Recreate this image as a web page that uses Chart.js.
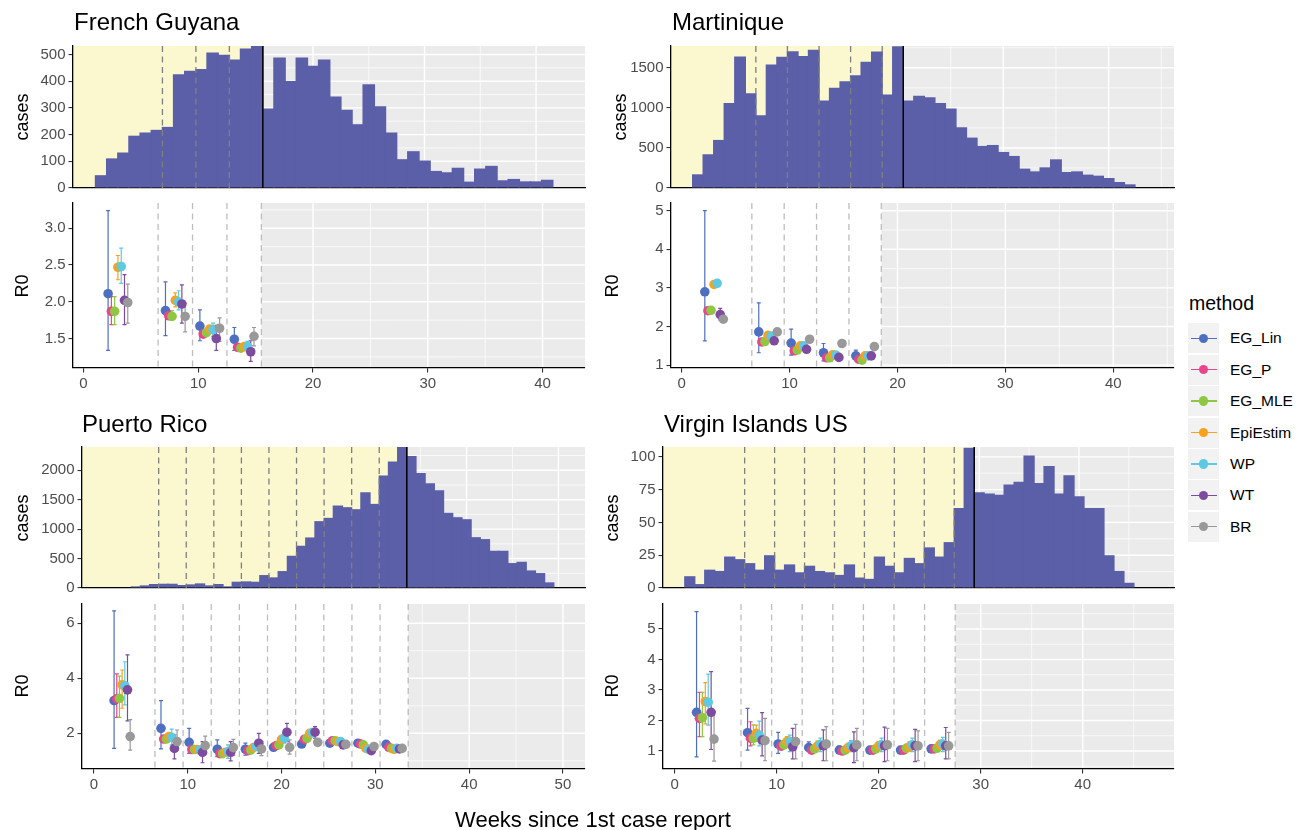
<!DOCTYPE html>
<html>
<head>
<meta charset="utf-8">
<script src="https://cdn.jsdelivr.net/npm/chart.js@4.4.0/dist/chart.umd.min.js"></script>
<style>
  body { margin: 0; background: #fff; font-family: "Liberation Sans", Arial, sans-serif; }
  #wrap { position: relative; width: 1297px; height: 830px; overflow: hidden; }
  .t { position: absolute; white-space: nowrap; color: #000; }
  .title { font-size: 24px; line-height: 28px; }
  .ylab { font-size: 18px; line-height: 20px; transform: translate(-50%, -50%) rotate(-90deg); }
  .xlab { font-size: 22px; line-height: 26px; transform: translate(-50%, -50%); }
  .legt { font-size: 19.5px; line-height: 24px; }
  .legl { font-size: 15.5px; line-height: 18px; }
</style>
</head>
<body>
<div id="wrap"></div>
<script>
const methods = ['EG_Lin', 'EG_P', 'EG_MLE', 'EpiEstim', 'WP', 'WT', 'BR'];
const methodColors = ['#4E6FBF', '#E8458C', '#8FC742', '#F8A21C', '#5DC9E2', '#7D4C9F', '#999999'];

// weekly case counts (first value = week given by *Start)
const fgStart = 1;
const fgCases = [48, 111, 133, 196, 208, 218, 229, 426, 439, 446, 508, 499, 481, 523, 532, 298, 489, 401, 489, 458,
  481, 343, 293, 239, 389, 306, 208, 108, 138, 103, 64, 59, 76, 24, 73, 83, 29, 34, 25, 25, 31];
const martStart = 1;
const martCases = [171, 421, 600, 1062, 1642, 1183, 908, 1542, 1637, 1708, 1646, 1725, 1092, 1250, 1333, 1408, 1575, 1704, 1167, 1770,
  1092, 1150, 1133, 1062, 992, 758, 629, 525, 537, 450, 400, 242, 208, 258, 358, 200, 208, 167, 154, 125, 75, 46];
const prStart = 4;
const prCases = [28, 45, 68, 73, 73, 51, 62, 79, 45, 68, 28, 107, 113, 107, 220, 181, 288, 548, 718, 859,
  1136, 1192, 1401, 1373, 1339, 1627, 1429, 1910, 2147, 2395, 2243, 1955, 1780, 1661, 1277, 1203, 1169, 864, 831, 633,
  633, 424, 446, 299, 254, 96];
const viStart = 1;
const viCases = [9, 3, 14, 13, 24, 22, 19, 14, 25, 14, 18, 12, 17, 13, 12, 10, 18, 8, 7, 24,
  17, 12, 23, 19, 31, 24, 35, 61, 107, 73, 72, 71, 79, 81, 101, 80, 93, 72, 86, 70, 61, 61, 25, 13, 4];

// estimation windows (week boundaries), peak week boundary, window centres
const fgBreaks = [6.5, 9.5, 12.5, 15.5];
const fgPeak = 15.5;
const fgCenters = [3, 8, 11, 14];
const martBreaks = [6.5, 9.5, 12.5, 15.5, 18.5];
const martPeak = 20.5;
const martCenters = [3, 8, 11, 14, 17];
const prBreaks = [6.5, 9.5, 12.5, 15.5, 18.5, 21.5, 24.5, 27.5, 30.5, 33.5];
const prPeak = 33.5;
const prCenters = [3, 8, 11, 14, 17, 20, 23, 26, 29, 32];
const viBreaks = [6.5, 9.5, 12.5, 15.5, 18.5, 21.5, 24.5, 27.5];
const viPeak = 29.5;
const viCenters = [3, 8, 11, 14, 17, 20, 23, 26];

// R0 estimates: one row per window, columns follow `methods`
const fgR0 = [
  [2.11, 1.87, 1.87, 2.47, 2.48, 2.02, 1.99],
  [1.88, 1.81, 1.80, 2.02, 2.00, 1.97, 1.80],
  [1.67, 1.56, 1.58, 1.63, 1.62, 1.50, 1.64],
  [1.49, 1.38, 1.37, 1.39, 1.39, 1.32, 1.53]];
const fgLo = [
  [1.34, 1.69, 1.69, 2.30, 2.25, 1.69, 1.71],
  [1.54, 1.76, 1.75, 1.93, 1.89, 1.71, 1.59],
  [1.47, 1.53, 1.53, 1.58, 1.53, 1.34, 1.46],
  [1.34, 1.36, 1.35, 1.37, 1.32, 1.19, 1.40]];
const fgHi = [
  [3.24, 2.07, 2.07, 2.63, 2.73, 2.37, 2.24],
  [2.27, 1.87, 1.88, 2.12, 2.15, 2.23, 1.98],
  [1.89, 1.60, 1.62, 1.67, 1.71, 1.68, 1.78],
  [1.65, 1.41, 1.40, 1.42, 1.46, 1.47, 1.65]];

const martR0 = [
  [2.90, 2.41, 2.42, 3.09, 3.12, 2.31, 2.19],
  [1.86, 1.60, 1.61, 1.77, 1.75, 1.63, 1.86],
  [1.57, 1.37, 1.39, 1.50, 1.50, 1.41, 1.67],
  [1.32, 1.19, 1.19, 1.27, 1.26, 1.20, 1.56],
  [1.24, 1.15, 1.13, 1.24, 1.24, 1.24, 1.48]];
const martLo = [
  [1.63, 2.37, 2.38, 3.05, 3.08, 2.17, 2.15],
  [1.32, 1.57, 1.58, 1.73, 1.71, 1.58, 1.83],
  [1.26, 1.34, 1.36, 1.47, 1.47, 1.37, 1.64],
  [1.11, 1.16, 1.16, 1.24, 1.23, 1.16, 1.53],
  [1.11, 1.12, 1.10, 1.21, 1.21, 1.20, 1.45]];
const martHi = [
  [5.00, 2.45, 2.46, 3.13, 3.16, 2.47, 2.23],
  [2.61, 1.63, 1.64, 1.81, 1.79, 1.68, 1.89],
  [1.93, 1.40, 1.42, 1.53, 1.53, 1.45, 1.70],
  [1.56, 1.22, 1.22, 1.30, 1.29, 1.24, 1.59],
  [1.39, 1.18, 1.16, 1.27, 1.27, 1.28, 1.51]];

const prR0 = [
  [3.19, 3.25, 3.27, 3.76, 3.73, 3.58, 1.88],
  [2.18, 1.79, 1.79, 1.88, 1.85, 1.45, 1.70],
  [1.67, 1.41, 1.41, 1.41, 1.39, 1.31, 1.55],
  [1.42, 1.26, 1.26, 1.31, 1.33, 1.31, 1.48],
  [1.42, 1.37, 1.39, 1.48, 1.52, 1.64, 1.43],
  [1.49, 1.55, 1.58, 1.78, 1.82, 2.04, 1.49],
  [1.61, 1.78, 1.82, 2.00, 2.02, 2.04, 1.67],
  [1.64, 1.73, 1.73, 1.70, 1.70, 1.58, 1.60],
  [1.64, 1.61, 1.58, 1.45, 1.42, 1.37, 1.52],
  [1.60, 1.49, 1.45, 1.42, 1.45, 1.43, 1.45]];
const prLo = [
  [1.45, 2.58, 2.58, 2.91, 3.03, 2.45, 1.39],
  [1.43, 1.70, 1.70, 1.78, 1.58, 1.07, 1.39],
  [1.27, 1.33, 1.33, 1.33, 1.30, 0.93, 1.24],
  [1.15, 1.20, 1.20, 1.24, 1.09, 1.00, 1.21],
  [1.21, 1.31, 1.33, 1.40, 1.40, 1.27, 1.19],
  [1.40, 1.48, 1.50, 1.68, 1.64, 1.70, 1.24],
  [1.53, 1.70, 1.74, 1.92, 1.88, 1.82, 1.58],
  [1.57, 1.66, 1.66, 1.63, 1.63, 1.50, 1.52],
  [1.57, 1.55, 1.52, 1.39, 1.35, 1.30, 1.45],
  [1.53, 1.43, 1.39, 1.36, 1.38, 1.36, 1.38]];
const prHi = [
  [6.45, 4.16, 4.08, 4.30, 4.60, 4.85, 2.50],
  [3.19, 1.90, 1.90, 1.98, 2.15, 1.94, 2.12],
  [2.18, 1.50, 1.50, 1.50, 1.50, 1.70, 1.90],
  [1.76, 1.33, 1.33, 1.38, 1.58, 1.70, 1.78],
  [1.64, 1.43, 1.45, 1.56, 1.65, 2.00, 1.70],
  [1.58, 1.62, 1.66, 1.88, 2.00, 2.36, 1.76],
  [1.70, 1.86, 1.90, 2.08, 2.18, 2.24, 1.76],
  [1.71, 1.80, 1.80, 1.77, 1.77, 1.66, 1.68],
  [1.71, 1.67, 1.64, 1.51, 1.49, 1.44, 1.59],
  [1.67, 1.55, 1.51, 1.48, 1.52, 1.50, 1.52]];

const viR0 = [
  [2.27, 2.07, 2.09, 2.62, 2.60, 2.27, 1.39],
  [1.60, 1.42, 1.42, 1.58, 1.52, 1.36, 1.34],
  [1.23, 1.16, 1.20, 1.31, 1.31, 1.14, 1.31],
  [1.11, 1.03, 1.07, 1.17, 1.22, 1.17, 1.23],
  [1.03, 1.00, 1.03, 1.11, 1.17, 1.11, 1.20],
  [1.03, 1.03, 1.07, 1.17, 1.20, 1.17, 1.20],
  [1.03, 1.03, 1.09, 1.14, 1.20, 1.17, 1.17],
  [1.07, 1.07, 1.09, 1.20, 1.23, 1.17, 1.17]];
const viLo = [
  [0.81, 1.47, 1.47, 1.89, 1.85, 1.05, 0.67],
  [1.03, 1.17, 1.20, 1.31, 1.17, 0.84, 0.68],
  [0.92, 1.05, 1.08, 1.11, 0.98, 0.74, 0.74],
  [0.98, 0.95, 0.98, 1.02, 0.98, 0.68, 0.68],
  [0.95, 0.93, 0.96, 0.98, 0.98, 0.62, 0.68],
  [0.95, 0.95, 0.98, 1.02, 0.98, 0.65, 0.68],
  [0.95, 0.95, 1.00, 1.00, 0.98, 0.65, 0.68],
  [0.98, 0.98, 1.00, 1.05, 0.98, 0.74, 0.74]];
const viHi = [
  [5.57, 2.92, 2.92, 3.24, 3.52, 3.60, 2.29],
  [2.40, 1.96, 1.86, 1.85, 1.98, 2.26, 2.07],
  [1.61, 1.30, 1.34, 1.47, 1.52, 1.74, 1.87],
  [1.30, 1.13, 1.17, 1.33, 1.42, 1.69, 1.80],
  [1.16, 1.08, 1.12, 1.25, 1.34, 1.63, 1.74],
  [1.13, 1.12, 1.17, 1.32, 1.42, 1.78, 1.74],
  [1.13, 1.12, 1.19, 1.30, 1.42, 1.71, 1.66],
  [1.17, 1.17, 1.20, 1.36, 1.45, 1.77, 1.61]];

// tick labels
const weekTicks = [0, 10, 20, 30, 40];
const prWeekTicks = [0, 10, 20, 30, 40, 50];
const weekMinor = [5, 15, 25, 35, 45];
const fgCaseTicks = [0, 100, 200, 300, 400, 500];
const fgCaseMinor = [50, 150, 250, 350, 450];
const martCaseTicks = [0, 500, 1000, 1500];
const martCaseMinor = [250, 750, 1250, 1750];
const prCaseTicks = [0, 500, 1000, 1500, 2000];
const prCaseMinor = [250, 750, 1250, 1750, 2250];
const viCaseTicks = [0, 25, 50, 75, 100];
const viCaseMinor = [12.5, 37.5, 62.5, 87.5];
const fgR0Ticks = [1.5, 2.0, 2.5, 3.0];
const fgR0Minor = [1.25, 1.75, 2.25, 2.75, 3.25];
const martR0Ticks = [1, 2, 3, 4, 5];
const martR0Minor = [1.5, 2.5, 3.5, 4.5];
const prR0Ticks = [2, 4, 6];
const prR0Minor = [1, 3, 5];
const viR0Ticks = [1, 2, 3, 4, 5];
const viR0Minor = [0.5, 1.5, 2.5, 3.5, 4.5, 5.5];

Chart.defaults.font.family = '"Liberation Sans", Arial, sans-serif';
Chart.defaults.animation = false;

const wrap = document.getElementById('wrap');
const AXW = 70, PADT = 12, PADR = 14, PADB = 12;
const dodge = 2 / 7;

function addText(txt, cls, left, top) {
  const d = document.createElement('div');
  d.className = 't ' + cls;
  d.textContent = txt;
  d.style.left = left + 'px';
  d.style.top = top + 'px';
  wrap.appendChild(d);
  return d;
}

function makeCanvas(box, xh) {
  const c = document.createElement('canvas');
  const w = AXW + box.r - box.l + PADR;
  const h = PADT + box.b - box.t + xh + PADB;
  c.width = w;
  c.height = h;
  c.style.cssText = 'position:absolute;left:' + (box.l - AXW) + 'px;top:' + (box.t - PADT) +
    'px;width:' + w + 'px;height:' + h + 'px';
  wrap.appendChild(c);
  return c;
}

function vLines(chart, vals, color, width, dash) {
  const {ctx, chartArea: a} = chart;
  const x = chart.scales.x;
  ctx.save();
  ctx.strokeStyle = color;
  ctx.lineWidth = width;
  ctx.setLineDash(dash);
  vals.forEach(v => {
    const px = x.getPixelForValue(v);
    ctx.beginPath();
    ctx.moveTo(px, a.top);
    ctx.lineTo(px, a.bottom);
    ctx.stroke();
  });
  ctx.restore();
}

// grey panel, white grid, and the plain (yellow / white) part on the left
function backdrop(cfg) {
  return {
    id: 'backdrop',
    beforeDraw(chart) {
      const {ctx, chartArea: a} = chart;
      const x = chart.scales.x, y = chart.scales.y;
      ctx.save();
      ctx.fillStyle = '#EBEBEB';
      ctx.fillRect(a.left, a.top, a.right - a.left, a.bottom - a.top);
      ctx.strokeStyle = '#FFFFFF';
      const grid = (vals, w, vertical) => {
        ctx.lineWidth = w;
        vals.forEach(v => {
          if (vertical) {
            const px = x.getPixelForValue(v);
            if (px <= a.left || px >= a.right) return;
            ctx.beginPath(); ctx.moveTo(px, a.top); ctx.lineTo(px, a.bottom); ctx.stroke();
          } else {
            const py = y.getPixelForValue(v);
            if (py <= a.top || py >= a.bottom) return;
            ctx.beginPath(); ctx.moveTo(a.left, py); ctx.lineTo(a.right, py); ctx.stroke();
          }
        });
      };
      grid(cfg.yMinor, 0.7, false);
      grid(cfg.xMinor, 0.7, true);
      grid(cfg.yTicks, 1.4, false);
      grid(cfg.xTicks, 1.4, true);
      ctx.fillStyle = cfg.cover;
      ctx.fillRect(a.left, a.top, x.getPixelForValue(cfg.coverTo) - a.left, a.bottom - a.top);
      ctx.restore();
    },
    beforeDatasetsDraw(chart) {
      if (cfg.kind !== 'r0') return;
      vLines(chart, cfg.breaks, '#BDBDBD', 1.3, [6, 4.5]);
      const {ctx} = chart;
      const y = chart.scales.y;
      chart.data.datasets.forEach((ds, i) => {
        const meta = chart.getDatasetMeta(i);
        ctx.save();
        ctx.strokeStyle = ds.backgroundColor;
        ctx.lineWidth = 1.2;
        meta.data.forEach((pt, j) => {
          const d = ds.data[j];
          const y1 = y.getPixelForValue(d.lo), y2 = y.getPixelForValue(d.hi);
          ctx.beginPath();
          ctx.moveTo(pt.x, y1); ctx.lineTo(pt.x, y2);
          ctx.moveTo(pt.x - 2, y1); ctx.lineTo(pt.x + 2, y1);
          ctx.moveTo(pt.x - 2, y2); ctx.lineTo(pt.x + 2, y2);
          ctx.stroke();
        });
        ctx.restore();
      });
    },
    afterDatasetsDraw(chart) {
      if (cfg.kind !== 'cases') return;
      vLines(chart, cfg.breaks.filter(b => b < cfg.coverTo), '#7F7F7F', 1.3, [6, 4.5]);
      vLines(chart, [cfg.coverTo], '#000000', 1.5, []);
    }
  };
}

function yAxis(box, ticks, fmt) {
  return {
    position: 'left', min: box.yMin, max: box.yMax, bounds: 'data',
    afterFit: s => { s.width = AXW; },
    afterBuildTicks: s => { s.ticks = ticks.map(v => ({value: v})); },
    ticks: {color: '#4D4D4D', font: {size: 15}, padding: 3, callback: v => fmt(v)},
    grid: {drawOnChartArea: false, drawTicks: true, tickLength: 4.5, color: '#333333', lineWidth: 1.1},
    border: {display: true, color: '#000000', width: 1.3}
  };
}

function casesPanel(box, cases, start, breaks, peak, yTicks, yMinor, xTicks) {
  const canvas = makeCanvas(box, 0);
  const cfg = {kind: 'cases', breaks, coverTo: peak, cover: '#FBF8D0',
    yTicks, yMinor, xTicks, xMinor: weekMinor};
  new Chart(canvas, {
    type: 'bar',
    data: {
      datasets: [{
        data: cases.map((v, i) => ({x: start + i, y: v})),
        backgroundColor: '#5B5FA8',
        borderWidth: 0,
        inflateAmount: 0,
        barPercentage: 1.13,
        categoryPercentage: 1
      }]
    },
    options: {
      responsive: false, maintainAspectRatio: false, devicePixelRatio: 1,
      layout: {padding: {top: PADT, right: PADR, bottom: PADB, left: 0}},
      plugins: {legend: {display: false}, tooltip: {enabled: false}},
      scales: {
        x: {
          type: 'linear', min: box.xMin, max: box.xMax, offset: false, bounds: 'data',
          afterFit: s => { s.height = 0; },
          afterBuildTicks: s => { s.ticks = xTicks.map(v => ({value: v})); },
          ticks: {display: false},
          grid: {display: false},
          border: {display: true, color: '#000000', width: 1.3}
        },
        y: yAxis(box, yTicks, v => String(v))
      }
    },
    plugins: [backdrop(cfg)]
  });
}

function r0Panel(box, centers, est, lo, hi, breaks, yTicks, yMinor, yFmt, xTicks) {
  const canvas = makeCanvas(box, 28);
  const cfg = {kind: 'r0', breaks, coverTo: breaks[breaks.length - 1], cover: '#FFFFFF',
    yTicks, yMinor, xTicks, xMinor: weekMinor};
  const datasets = methods.map((m, i) => ({
    label: m,
    data: centers.map((c, g) => ({x: c + (i - 3) * dodge, y: est[g][i], lo: lo[g][i], hi: hi[g][i]})),
    backgroundColor: methodColors[i],
    pointBackgroundColor: methodColors[i],
    pointBorderWidth: 0,
    pointRadius: 4.8,
    order: methods.length - 1 - i
  }));
  new Chart(canvas, {
    type: 'scatter',
    data: {datasets},
    options: {
      responsive: false, maintainAspectRatio: false, devicePixelRatio: 1,
      layout: {padding: {top: PADT, right: PADR, bottom: PADB, left: 0}},
      plugins: {legend: {display: false}, tooltip: {enabled: false}},
      scales: {
        x: {
          type: 'linear', position: 'bottom', min: box.xMin, max: box.xMax, offset: false, bounds: 'data',
          afterFit: s => { s.height = 28; },
          afterBuildTicks: s => { s.ticks = xTicks.map(v => ({value: v})); },
          ticks: {color: '#4D4D4D', font: {size: 15}, padding: 2, maxRotation: 0, autoSkip: false,
            callback: v => String(v)},
          grid: {drawOnChartArea: false, drawTicks: true, tickLength: 4.5, color: '#333333', lineWidth: 1.1},
          border: {display: true, color: '#000000', width: 1.3}
        },
        y: yAxis(box, yTicks, yFmt)
      }
    },
    plugins: [backdrop(cfg)]
  });
}

const int = v => String(v);
const oneDec = v => v.toFixed(1);

// French Guyana
casesPanel({l: 73, r: 585, t: 46, b: 188, xMin: -1.52, xMax: 44.39, yMin: 0, yMax: 532},
  fgCases, fgStart, fgBreaks, fgPeak, fgCaseTicks, fgCaseMinor, weekTicks);
r0Panel({l: 73, r: 585, t: 203, b: 368, xMin: -0.915, xMax: 43.7, yMin: 1.099, yMax: 3.344},
  fgCenters, fgR0, fgLo, fgHi, fgBreaks, fgR0Ticks, fgR0Minor, oneDec, weekTicks);

// Martinique
casesPanel({l: 671, r: 1174, t: 46, b: 188, xMin: -1.557, xMax: 46.21, yMin: 0, yMax: 1772},
  martCases, martStart, martBreaks, martPeak, martCaseTicks, martCaseMinor, weekTicks);
r0Panel({l: 671, r: 1174, t: 203, b: 368, xMin: -0.992, xMax: 45.63, yMin: 0.925, yMax: 5.2},
  martCenters, martR0, martLo, martHi, martBreaks, martR0Ticks, martR0Minor, int, weekTicks);

// Puerto Rico
casesPanel({l: 82, r: 585, t: 447, b: 588, xMin: -1.844, xMax: 52.89, yMin: 0, yMax: 2395},
  prCases, prStart, prBreaks, prPeak, prCaseTicks, prCaseMinor, prWeekTicks);
r0Panel({l: 82, r: 585, t: 604, b: 769, xMin: -1.279, xMax: 52.35, yMin: 0.702, yMax: 6.70},
  prCenters, prR0, prLo, prHi, prBreaks, prR0Ticks, prR0Minor, int, prWeekTicks);

// Virgin Islands US
casesPanel({l: 663, r: 1174, t: 447, b: 588, xMin: -1.683, xMax: 49.52, yMin: 0, yMax: 107.5},
  viCases, viStart, viBreaks, viPeak, viCaseTicks, viCaseMinor, weekTicks);
r0Panel({l: 663, r: 1174, t: 604, b: 769, xMin: -1.147, xMax: 48.95, yMin: 0.41, yMax: 5.82},
  viCenters, viR0, viLo, viHi, viBreaks, viR0Ticks, viR0Minor, int, weekTicks);

// titles and axis titles
addText('French Guyana', 'title', 74, 8);
addText('Martinique', 'title', 672, 8);
addText('Puerto Rico', 'title', 82, 410);
addText('Virgin Islands US', 'title', 664, 410);
addText('cases', 'ylab', 22, 117);
addText('R0', 'ylab', 22, 286);
addText('cases', 'ylab', 620, 117);
addText('R0', 'ylab', 612, 286);
addText('cases', 'ylab', 22, 518);
addText('R0', 'ylab', 22, 686);
addText('cases', 'ylab', 612, 518);
addText('R0', 'ylab', 612, 686);
addText('Weeks since 1st case report', 'xlab', 593, 820);

// legend
addText('method', 'legt', 1189, 291);
methods.forEach((m, i) => {
  const cy = 338.3 + i * 31.4;
  const key = document.createElement('div');
  key.style.cssText = 'position:absolute;left:1188px;top:' + (cy - 15) + 'px;width:31px;height:30px;background:#F2F2F2';
  const ln = document.createElement('div');
  ln.style.cssText = 'position:absolute;left:1191px;top:' + (cy - 0.75) + 'px;width:26px;height:1.5px;background:' + methodColors[i];
  const dot = document.createElement('div');
  dot.style.cssText = 'position:absolute;left:' + (1203.5 - 4.7) + 'px;top:' + (cy - 4.7) +
    'px;width:9.4px;height:9.4px;border-radius:50%;background:' + methodColors[i];
  wrap.appendChild(key);
  wrap.appendChild(ln);
  wrap.appendChild(dot);
  addText(m, 'legl', 1230, cy - 9);
});
</script>
</body>
</html>
